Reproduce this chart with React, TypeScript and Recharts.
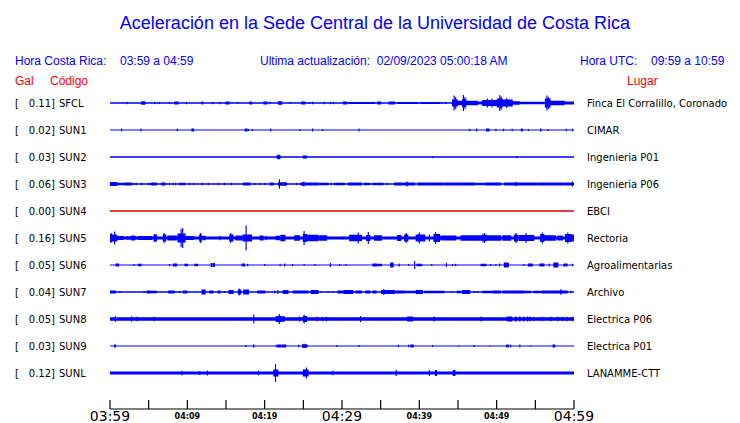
import { ComposedChart, Area, XAxis, YAxis } from "recharts";

// stations, top to bottom
const stationCodes = ["SFCL", "SUN1", "SUN2", "SUN3", "SUN4", "SUN5", "SUN6", "SUN7", "SUN8", "SUN9", "SUNL"];
const stationGal = ["0.11", "0.02", "0.03", "0.06", "0.00", "0.16", "0.05", "0.04", "0.05", "0.03", "0.12"];
const stationPlaces = [
  "Finca El Corralillo, Coronado",
  "CIMAR",
  "Ingenieria P01",
  "Ingenieria P06",
  "EBCI",
  "Rectoria",
  "Agroalimentarias",
  "Archivo",
  "Electrica P06",
  "Electrica P01",
  "LANAMME-CTT",
];
// resting trace half-thickness (px)
const stationBase = [0.65, 0.6, 0.65, 0.8, 0.7, 1.5, 0.6, 0.65, 1.7, 0.6, 1.6];

// bursts: [start min, end min, half amplitude px]
const sfclBursts = [
  [2.2, 2.2, 1.2], [4.1, 4.5, 1.8], [5.8, 5.8, 1.3], [6.4, 6.4, 1], [7.7, 7.7, 1], [8.4, 8.8, 1.4],
  [9.9, 9.9, 1.2], [11.9, 12.0, 1.4], [13.3, 13.3, 1.2], [14.2, 14.2, 1.2], [15.0, 15.4, 1.4],
  [16.5, 16.5, 1], [18.1, 18.3, 1.5], [19.9, 20.3, 1.5], [20.7, 20.7, 1.2], [21.8, 22.2, 1.8],
  [23.3, 23.3, 1], [24.8, 25.2, 1.4], [25.8, 25.8, 1], [26.2, 26.2, 1.2], [27.7, 27.7, 1.2],
  [28.5, 28.5, 1.2], [28.9, 28.9, 1.2], [30.2, 30.6, 1.5], [30.9, 34.2, 1.1], [34.6, 35.0, 1.4],
  [36.1, 36.8, 1.5], [37.2, 39.8, 1.0], [40.2, 42.6, 1.1], [42.9, 42.9, 1], [43.4, 43.4, 1],
  [44.3, 44.9, 3.5], [44.5, 44.5, 7.5], [44.7, 44.7, 6], [44.9, 45.5, 2.2],
  [45.6, 46.0, 4], [45.7, 45.7, 8], [45.9, 45.9, 6], [46.0, 47.5, 2.3],
  [47.6, 48.1, 1.4], [48.2, 50.1, 3], [48.8, 48.8, 4.5], [49.4, 49.4, 4.5],
  [50.1, 50.7, 4.5], [50.4, 50.4, 8], [50.6, 50.6, 6.5], [50.7, 52.0, 3.5], [51.3, 51.3, 5],
  [52.0, 52.9, 1.8], [52.9, 56.1, 1.3],
  [56.3, 56.9, 4.5], [56.5, 56.5, 7.5], [56.7, 56.7, 6], [57.0, 58.7, 2.3], [58.7, 60, 1.5],
];
const sun1Bursts = [
  [1.5, 1.5, 1.4], [4.0, 4.0, 1.4], [8.7, 8.7, 1.2], [10.6, 10.8, 1.5], [17.5, 17.7, 1.5],
  [17.9, 17.9, 1.1], [18.4, 18.4, 1.1], [20.8, 20.8, 1.4], [24.6, 24.6, 1], [26.2, 26.2, 1.4],
  [27.5, 27.5, 1], [32.2, 32.2, 1.4], [46.5, 46.5, 1.1], [47.4, 47.4, 1.4], [48.7, 49.0, 1.6],
  [49.9, 49.9, 1.2], [50.9, 50.9, 1.2], [52.0, 52.0, 1.2], [53.2, 53.3, 1.4], [54.1, 54.1, 1.1],
  [55.7, 55.7, 1.8], [56.6, 56.6, 1], [59.0, 59.0, 1.2], [59.8, 59.8, 1.2],
];
const sun2Bursts = [
  [21.7, 21.9, 2.3], [21.6, 22.0, 1.5], [25.0, 25.4, 1.6], [41.7, 41.7, 1], [52.6, 52.6, 1.2],
];
const sun3Bursts = [
  [0, 0.9, 2], [1.1, 1.7, 1.3], [1.9, 2.8, 1.5], [3.1, 3.1, 1.2], [3.4, 3.4, 1.2], [4.1, 4.1, 1.2],
  [4.9, 4.9, 1.3], [5.2, 5.2, 1.3], [5.4, 6.0, 1.5], [6.7, 7.1, 1.5], [7.7, 7.7, 1.2], [8.2, 8.2, 1.2],
  [8.5, 8.5, 1.2], [9.0, 9.7, 1.3], [10.3, 10.3, 1.2], [10.8, 10.8, 1.2], [11.9, 11.9, 1.4],
  [12.7, 12.7, 1.2], [14.0, 14.0, 1.2], [14.8, 14.8, 1.2], [15.7, 15.7, 1.3], [17.3, 18.1, 1.5],
  [18.7, 18.7, 1.3], [19.4, 19.4, 1.3], [20.0, 20.0, 1.3], [20.7, 21.1, 1.4], [21.9, 21.9, 4.7],
  [21.8, 22.8, 1.8], [24.1, 24.1, 1.2], [24.7, 26.9, 1.5], [25.0, 25.1, 2.2], [27.1, 28.2, 1.3],
  [28.6, 28.6, 1.2], [29.0, 30.3, 1.2], [30.8, 32.5, 1.6], [32.9, 33.6, 1.3], [34.0, 35.3, 1.3],
  [35.8, 35.8, 1.3], [36.8, 37.9, 1.5], [38.1, 39.4, 1.6], [38.4, 38.4, 2.5], [39.8, 43.2, 1.5],
  [43.4, 47.1, 1.5], [47.3, 48.4, 1.3], [48.6, 50.5, 1.5], [51.0, 55.3, 1.6], [52.5, 52.5, 2.2],
  [55.5, 58.5, 1.5], [58.7, 60, 1.5], [59.8, 59.8, 2.5],
];
const sun4Bursts: number[][] = [];
const sun5Bursts = [
  [0, 0.2, 4.5], [0.2, 0.5, 2.5], [0.3, 0.8, 3.5], [0.6, 0.6, 6.5], [0.8, 1.0, 2.5], [1.1, 1.7, 2],
  [2.1, 3.4, 1.8], [2.8, 3.2, 2.5], [3.7, 5.4, 1.9], [5.7, 6.0, 3.5], [5.8, 5.8, 4],
  [6.9, 7.2, 3.5], [7.0, 7.0, 5], [7.5, 8.6, 2.6], [8.8, 9.7, 4.5], [9.2, 9.2, 9], [9.4, 9.4, 10],
  [9.9, 10.8, 2], [11.6, 11.8, 3.5], [11.7, 11.7, 5], [12.0, 12.3, 2.2], [14.2, 14.2, 2.2],
  [15.5, 15.9, 3.5], [15.6, 15.6, 5], [16.3, 17.0, 2.4], [17.2, 18.3, 3.5], [17.6, 17.6, 12.5],
  [19.4, 19.8, 2.4], [20.2, 20.2, 2.2], [21.5, 21.9, 2.2], [22.1, 22.6, 3.2], [23.9, 24.5, 2.8],
  [25.0, 25.4, 4], [25.1, 25.1, 7], [25.4, 26.9, 3.3], [27.1, 28.0, 2.8], [30.1, 30.1, 1.8],
  [31.0, 32.5, 3.3], [32.1, 32.1, 5.5], [33.2, 33.6, 3], [33.4, 33.4, 6], [34.2, 35.1, 2.8],
  [37.2, 37.6, 3], [38.1, 38.5, 3.5], [38.3, 38.3, 5], [39.6, 40.7, 3.5], [40.0, 40.0, 5.5],
  [41.3, 41.3, 3.5], [41.9, 42.6, 4], [42.1, 42.1, 6], [42.8, 44.7, 2.4], [45.4, 48.2, 2.8],
  [48.2, 48.6, 3.5], [48.4, 48.4, 5], [48.6, 50.5, 2.8], [50.8, 51.8, 2.8], [52.3, 52.7, 3.5],
  [52.5, 52.5, 5], [52.9, 54.8, 3], [53.8, 53.8, 5], [55.7, 56.1, 4], [55.9, 55.9, 5.5],
  [56.1, 57.6, 2.8], [57.9, 58.5, 2.4], [58.9, 59.6, 4], [59.2, 59.2, 5.5], [59.6, 60, 3.5],
];
const sun6Bursts = [
  [0.8, 1.1, 1.5], [3.1, 3.1, 1], [3.7, 4.0, 1.3], [7.7, 7.7, 1], [8.2, 8.6, 1.5], [9.7, 10.0, 1.3],
  [11.0, 11.3, 1.3], [13.1, 13.2, 2], [13.4, 13.5, 2], [17.1, 17.4, 1.5], [17.8, 17.8, 1.3],
  [20.0, 20.0, 1], [22.0, 22.0, 1.2], [22.6, 22.6, 1.5], [23.6, 23.6, 1], [25.1, 25.1, 0.9],
  [26.5, 26.5, 1], [28.5, 28.5, 2], [29.7, 29.7, 1], [30.5, 30.5, 0.9], [34.0, 34.4, 1.5],
  [34.5, 35.1, 1.3], [36.3, 36.6, 2.5], [37.4, 37.4, 1.5], [38.6, 38.6, 0.9], [39.4, 39.4, 4],
  [39.7, 40.3, 1.3], [41.6, 41.6, 1], [43.5, 43.5, 2], [44.3, 44.3, 1], [44.7, 44.7, 1.3],
  [48.0, 48.6, 1.3], [49.2, 49.2, 1], [49.9, 49.9, 1], [50.4, 50.4, 1.5], [51.0, 51.5, 2.5],
  [53.5, 53.5, 1], [54.1, 54.6, 1.5], [55.6, 56.1, 1.5], [56.8, 56.8, 1.5], [57.4, 57.9, 2.5],
  [58.7, 59.1, 1.5], [59.8, 59.8, 1.3],
];
const sun7Bursts = [
  [0, 0.7, 1.5], [1.3, 1.3, 1], [4.4, 4.4, 1], [4.8, 5.2, 1.5], [5.2, 6.0, 1.2], [7.6, 8.3, 1.5],
  [9.0, 9.0, 1], [9.5, 9.9, 1.5], [11.9, 12.3, 2.5], [12.9, 13.3, 1.5], [14.0, 14.2, 1.5],
  [14.8, 14.8, 1], [15.4, 15.9, 2], [16.6, 16.9, 2.5], [16.7, 16.7, 3.5], [17.3, 17.9, 2.5],
  [19.1, 20.0, 1.5], [21.3, 21.3, 1.5], [21.7, 21.7, 2], [22.4, 23.0, 2], [23.7, 25.6, 1.5],
  [26.0, 26.9, 2], [27.3, 27.3, 1], [28.2, 28.2, 1], [28.8, 28.8, 1], [29.5, 30.3, 1.5],
  [30.3, 31.4, 2], [31.8, 32.5, 1.5], [33.1, 33.6, 1.5], [34.0, 34.4, 1.5], [35.1, 36.8, 2],
  [35.4, 35.4, 3], [37.0, 38.1, 1.5], [38.3, 39.4, 1.3], [39.6, 40.4, 2], [40.7, 42.4, 1.3],
  [42.4, 43.2, 1.2], [44.1, 44.1, 1], [44.9, 45.4, 1.2], [45.6, 46.5, 2], [47.1, 47.1, 1],
  [47.5, 47.5, 1], [48.2, 49.3, 1.3], [49.5, 50.5, 1.5], [50.8, 52.3, 1.5], [52.3, 53.6, 1.5],
  [53.8, 54.4, 1.2], [54.8, 55.7, 1.2], [55.9, 57.9, 1.5], [57.9, 59.1, 1.5], [58.3, 58.3, 2.8],
  [59.6, 59.6, 1.3],
];
const sun8Bursts = [
  [0.7, 0.7, 3], [2.8, 2.8, 2.7], [3.5, 3.5, 2.2], [5.7, 5.7, 2.3], [18.6, 18.6, 4.5],
  [21.5, 22.2, 3], [21.9, 21.9, 5], [22.4, 22.5, 3], [24.5, 24.5, 2.5], [25.0, 25.4, 3],
  [25.1, 25.1, 4.5], [26.8, 26.8, 2.3], [27.5, 27.5, 2.3], [28.0, 28.0, 2.3], [32.4, 32.4, 3],
  [38.5, 39.1, 2.6], [41.9, 41.9, 2.5], [48.0, 48.0, 2.5], [51.4, 51.9, 2.6], [52.5, 52.5, 2.8],
  [53.0, 53.0, 2.8], [53.5, 53.5, 2.5], [54.0, 54.0, 2.5], [54.3, 54.3, 2.5], [54.8, 54.8, 2.3],
  [55.9, 55.9, 2.3], [57.0, 57.0, 2.3], [57.9, 57.9, 2.3], [58.5, 58.5, 2.3], [59.1, 59.1, 2.3],
  [59.8, 59.8, 2.3],
];
const sun9Bursts = [
  [0.6, 0.7, 1.5], [17.6, 17.6, 0.9], [18.6, 18.6, 1.8], [21.5, 21.5, 1.2], [21.7, 22.1, 1.6],
  [22.3, 22.7, 1.6], [24.4, 24.4, 1.2], [24.9, 25.4, 1.8], [25.1, 25.1, 2.3], [25.5, 25.5, 1.3],
  [29.3, 29.3, 0.9], [32.2, 32.2, 1], [37.3, 37.3, 1.2], [38.6, 38.6, 1.3], [38.9, 39.2, 1.6],
  [41.7, 41.7, 0.9], [45.1, 45.1, 0.8], [47.1, 47.1, 0.9], [49.1, 49.1, 0.8], [51.3, 51.5, 1.5],
  [51.8, 51.8, 1.2], [53.0, 53.0, 1.5], [54.4, 54.4, 0.8], [57.3, 57.5, 1.5],
];
const sunlBursts = [
  [9.3, 9.3, 2.2], [11.6, 11.6, 2], [12.6, 12.6, 2.5], [19.2, 19.2, 2.2], [21.2, 21.7, 3.5],
  [21.4, 21.4, 9], [25.0, 25.6, 3.5], [25.4, 25.4, 5.5], [28.8, 28.8, 2.2], [37.0, 37.0, 3],
  [41.3, 41.3, 3], [42.1, 42.2, 3], [44.4, 44.6, 3],
];
const stationBursts = [
  sfclBursts, sun1Bursts, sun2Bursts, sun3Bursts, sun4Bursts, sun5Bursts,
  sun6Bursts, sun7Bursts, sun8Bursts, sun9Bursts, sunlBursts,
];

// time axis, minutes after 03:59
const tickMinutes = [0, 5, 10, 15, 20, 25, 30, 35, 40, 45, 50, 55, 60];
const tickLabels = ["03:59", "", "04:09", "", "04:19", "", "04:29", "", "04:39", "", "04:49", "", "04:59"];
const bigTicks = [0, 30, 60];

const BLUE = "#0000ff";
const RED = "#ff0000";
const SPACING = 27;
const FIRST = 13;

const offsets = stationCodes.map((_, i) => FIRST + SPACING * i);

// sample each trace every 0.05 min
const rows = Array.from({ length: 1201 }, (_, k) => {
  const t = k / 20;
  const row: Record<string, any> = { t };
  stationCodes.forEach((code, i) => {
    let a = stationBase[i];
    for (const [s, e, amp] of stationBursts[i]) {
      if (t >= s - 0.07 && t <= e + 0.07 && amp > a) a = amp;
    }
    row[code] = [offsets[i] - a, offsets[i] + a];
  });
  return row;
});

const StationTick = (props: any) => {
  const { y, payload } = props;
  const i = offsets.indexOf(payload.value);
  if (i < 0) return null;
  const font = { fontFamily: "DejaVu Sans", fontSize: 10, fill: "#000" };
  return (
    <g>
      <text x={15} y={y} dy="0.36em" {...font}>[</text>
      <text x={55} y={y} dy="0.36em" textAnchor="end" {...font}>{stationGal[i]}]</text>
      <text x={59} y={y} dy="0.36em" {...font}>{stationCodes[i]}</text>
      <text x={587} y={y} dy="0.36em" {...font}>{stationPlaces[i]}</text>
    </g>
  );
};

const TimeTick = (props: any) => {
  const { x, y, payload } = props;
  const idx = tickMinutes.indexOf(payload.value);
  const big = bigTicks.includes(payload.value);
  return (
    <g>
      <line x1={x} x2={x} y1={y - 9} y2={y} stroke="#000" strokeWidth={1.2} />
      {tickLabels[idx] && (
        <text
          x={x}
          y={big ? y + 12 : y + 10}
          textAnchor="middle"
          fontFamily="DejaVu Sans"
          fontSize={big ? 14 : 8}
          fontWeight={big ? "normal" : "bold"}
          fill="#000"
        >
          {tickLabels[idx]}
        </text>
      )}
    </g>
  );
};

const txt = (left: number, top: number, size: number, color: string, s: string) => (
  <div
    style={{
      position: "absolute",
      left,
      top,
      fontFamily: "Liberation Sans, Arial, sans-serif",
      fontSize: size,
      lineHeight: "14px",
      color,
      whiteSpace: "pre",
    }}
  >
    {s}
  </div>
);

export default function App() {
  return (
    <div style={{ position: "absolute", left: 0, top: 0, width: 740, height: 423, background: "#fff" }}>
      <div
        style={{
          position: "absolute",
          left: 0,
          top: 12,
          width: 750,
          textAlign: "center",
          fontFamily: "Liberation Sans, Arial, sans-serif",
          fontSize: 18,
          lineHeight: "22px",
          color: BLUE,
        }}
      >
        Aceleración en la Sede Central de la Universidad de Costa Rica
      </div>
      {txt(15, 54, 12, BLUE, "Hora Costa Rica:")}
      {txt(120, 54, 12, BLUE, "03:59 a 04:59")}
      {txt(260, 54, 12, BLUE, "Ultima actualización:  02/09/2023 05:00:18 AM")}
      {txt(580, 54, 12, BLUE, "Hora UTC:")}
      {txt(651, 54, 12, BLUE, "09:59 a 10:59")}
      {txt(15, 74, 12, RED, "Gal")}
      {txt(50, 74, 12, RED, "Código")}
      {txt(627, 74, 12, RED, "Lugar")}
      <ComposedChart
        width={740}
        height={423}
        data={rows}
        margin={{ top: 90, right: 166, bottom: 0, left: 0 }}
        style={{ position: "absolute", left: 0, top: 0 }}
      >
        <XAxis
          dataKey="t"
          type="number"
          domain={[0, 60]}
          ticks={tickMinutes}
          interval={0}
          height={14}
          tickSize={0}
          tickMargin={0}
          tickLine={false}
          axisLine={{ stroke: "#000", strokeWidth: 1.2 }}
          tick={<TimeTick />}
        />
        <YAxis
          type="number"
          domain={[0, 319]}
          reversed
          width={110}
          ticks={offsets}
          interval={0}
          axisLine={false}
          tickLine={false}
          tick={<StationTick />}
        />
        {stationCodes.map((code) => (
          <Area
            key={code}
            dataKey={code}
            type="step"
            stroke="none"
            fill={code === "SUN4" ? "#e00000" : BLUE}
            fillOpacity={1}
            dot={false}
            activeDot={false}
            isAnimationActive={false}
          />
        ))}
      </ComposedChart>
    </div>
  );
}
